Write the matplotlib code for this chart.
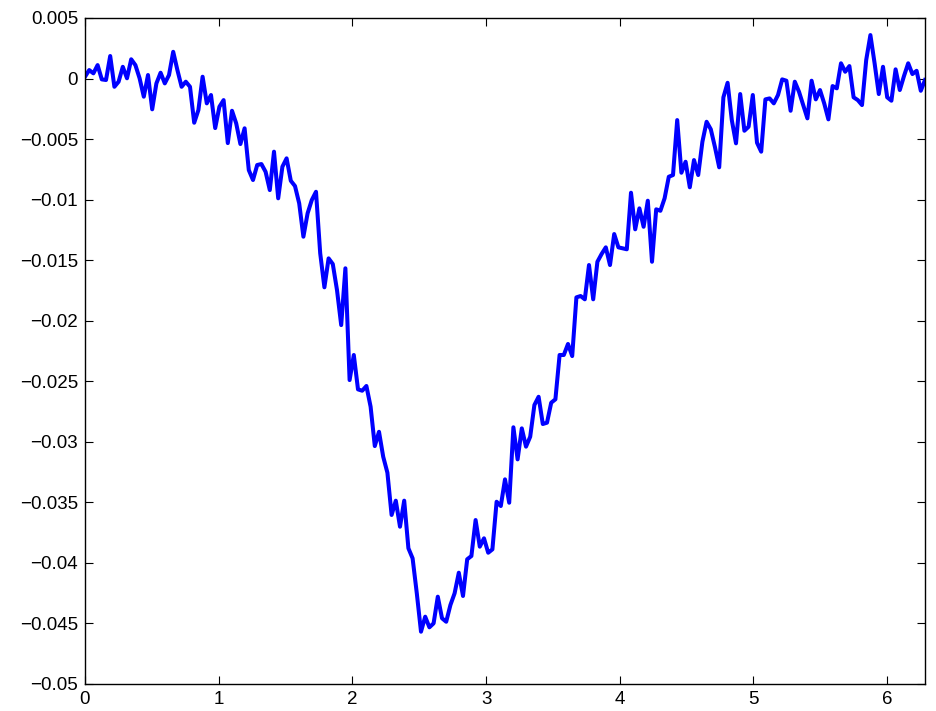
import numpy as np
import matplotlib
matplotlib.use("Agg")
import matplotlib.pyplot as plt

# signal values (201 samples, x = 0 .. 2*pi)
n_samples = 201
y_vals = [
    0.00015, 0.00070, 0.00043, 0.00111, -0.00007, -0.00012, 0.00186, -0.00068, -0.00026, 0.00097,
    0.00002, 0.00159, 0.00111, 0.00002, -0.00150, 0.00029, -0.00254, -0.00040, 0.00048, -0.00040,
    0.00029, 0.00221, 0.00070, -0.00068, -0.00026, -0.00068, -0.00365, -0.00260, 0.00015, -0.00205,
    -0.00136, -0.00409, -0.00233, -0.00178, -0.00533, -0.00266, -0.00370, -0.00541, -0.00411, -0.00756,
    -0.00838, -0.00714, -0.00706, -0.00770, -0.00921, -0.00604, -0.00989, -0.00728, -0.00659, -0.00844,
    -0.00888, -0.01031, -0.01306, -0.01113, -0.01003, -0.00935, -0.01443, -0.01724, -0.01485, -0.01532,
    -0.01747, -0.02036, -0.01567, -0.02490, -0.02283, -0.02567, -0.02578, -0.02539, -0.02710, -0.03035,
    -0.02917, -0.03123, -0.03255, -0.03604, -0.03486, -0.03701, -0.03486, -0.03879, -0.03962, -0.04251,
    -0.04568, -0.04444, -0.04532, -0.04499, -0.04279, -0.04457, -0.04486, -0.04348, -0.04251, -0.04081,
    -0.04273, -0.03970, -0.03943, -0.03646, -0.03866, -0.03797, -0.03916, -0.03888, -0.03495, -0.03530,
    -0.03310, -0.03503, -0.02880, -0.03145, -0.02889, -0.03040, -0.02958, -0.02696, -0.02628, -0.02853,
    -0.02842, -0.02677, -0.02649, -0.02283, -0.02283, -0.02192, -0.02292, -0.01807, -0.01796, -0.01823,
    -0.01540, -0.01823, -0.01513, -0.01449, -0.01394, -0.01540, -0.01284, -0.01394, -0.01402, -0.01410,
    -0.00943, -0.01245, -0.01072, -0.01224, -0.01009, -0.01513, -0.01080, -0.01092, -0.00989, -0.00811,
    -0.00797, -0.00343, -0.00778, -0.00687, -0.00898, -0.00673, -0.00797, -0.00522, -0.00357, -0.00419,
    -0.00568, -0.00733, -0.00155, -0.00035, -0.00343, -0.00535, -0.00128, -0.00431, -0.00398, -0.00136,
    -0.00530, -0.00604, -0.00172, -0.00164, -0.00205, -0.00136, -0.00007, -0.00018, -0.00266, -0.00026,
    -0.00109, -0.00219, -0.00329, -0.00018, -0.00172, -0.00095, -0.00205, -0.00337, -0.00062, -0.00081,
    0.00126, 0.00056, 0.00103, -0.00155, -0.00178, -0.00219, 0.00153, 0.00359, 0.00126, -0.00128,
    0.00097, -0.00155, -0.00183, 0.00076, -0.00095, 0.00021, 0.00126, 0.00037, 0.00064, -0.00101,
    -0.00012,
]
x_vals = np.linspace(0, 2 * np.pi, n_samples)

x_ticks = [0, 1, 2, 3, 4, 5, 6]
y_ticks = [-0.05, -0.045, -0.04, -0.035, -0.03, -0.025, -0.02, -0.015, -0.01, -0.005, 0, 0.005]
y_labels = ['\u22120.05', '\u22120.045', '\u22120.04', '\u22120.035', '\u22120.03', '\u22120.025',
            '\u22120.02', '\u22120.015', '\u22120.01', '\u22120.005', '0', '0.005']

plt.rcParams['font.family'] = ['Liberation Sans', 'DejaVu Sans']

fig = plt.figure(figsize=(9.37, 7.11), dpi=100)
ax = fig.add_axes([85 / 937, 27 / 711, 840 / 937, 666 / 711])
ax.plot(x_vals, y_vals, color=(0, 0, 1), linewidth=2.9, solid_joinstyle='round')

ax.set_xlim(0, 2 * np.pi)
ax.set_ylim(-0.05, 0.005)
ax.set_xticks(x_ticks)
ax.set_xticklabels([str(t) for t in x_ticks])
ax.set_yticks(y_ticks)
ax.set_yticklabels(y_labels)
ax.tick_params(direction='in', length=6, width=0.8, top=True, right=True,
               labelsize=13.5, colors='black')
ax.tick_params(axis='y', pad=5)
ax.tick_params(axis='x', pad=5)
for s in ax.spines.values():
    s.set_linewidth(1.0)

fig.savefig('out.png', dpi=100)
